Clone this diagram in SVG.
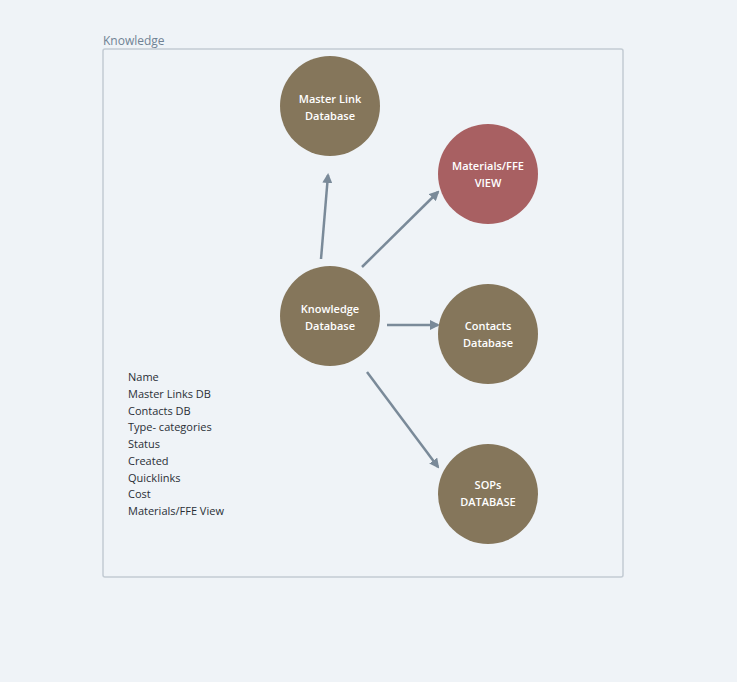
<svg xmlns="http://www.w3.org/2000/svg" width="737" height="682" viewBox="0 0 737 682">
<style>
.n{fill:#85765b}
.t{font-family:"Open Sans","Liberation Sans",sans-serif;font-size:11px;fill:#fff;text-anchor:middle;font-weight:600}
.l{font-family:"Open Sans","Liberation Sans",sans-serif;font-size:11px;fill:#2a2f36}
.c{stroke:#7a8a99;stroke-width:2.5;fill:none;marker-end:url(#a)}
</style>
<defs><marker id="a" viewBox="0 0 10 10" refX="8" refY="5" markerWidth="4" markerHeight="4" orient="auto"><path d="M0,0L10,5L0,10z" fill="#7a8a99"/></marker></defs>
<rect width="737" height="682" fill="#eff3f7"/>
<g id="frame"><rect x="103" y="49" width="520" height="528" fill="none" stroke="#c3cbd3" stroke-width="1.5" rx="2"/>
<text x="103" y="45" font-family="Open Sans,Liberation Sans,sans-serif" font-size="12" fill="#6f8294">Knowledge</text></g>
<g id="connectors">
<path class="c" d="M321,259L328,175"/>
<path class="c" d="M362,267L438,192"/>
<path class="c" d="M387,325L438,325"/>
<path class="c" d="M367,372L438,467"/>
</g>
<g id="master"><circle class="n" cx="330" cy="106" r="50"/><text class="t" x="330" y="103">Master Link</text><text class="t" x="330" y="120">Database</text></g>
<g id="materials"><circle cx="488" cy="174" r="50" fill="#a86062"/><text class="t" x="488" y="170">Materials/FFE</text><text class="t" x="488" y="187">VIEW</text></g>
<g id="knowledge"><circle class="n" cx="330" cy="316" r="50"/><text class="t" x="330" y="313">Knowledge</text><text class="t" x="330" y="330">Database</text></g>
<g id="contacts"><circle class="n" cx="488" cy="334" r="50"/><text class="t" x="488" y="330">Contacts</text><text class="t" x="488" y="347">Database</text></g>
<g id="sops"><circle class="n" cx="488" cy="494" r="50"/><text class="t" x="488" y="489">SOPs</text><text class="t" x="488" y="506">DATABASE</text></g>
<g id="fields" class="l">
<text x="128" y="381">Name</text><text x="128" y="398">Master Links DB</text><text x="128" y="415">Contacts DB</text><text x="128" y="431">Type- categories</text><text x="128" y="448">Status</text><text x="128" y="465">Created</text><text x="128" y="482">Quicklinks</text><text x="128" y="498">Cost</text><text x="128" y="515">Materials/FFE View</text>
</g>
</svg>
